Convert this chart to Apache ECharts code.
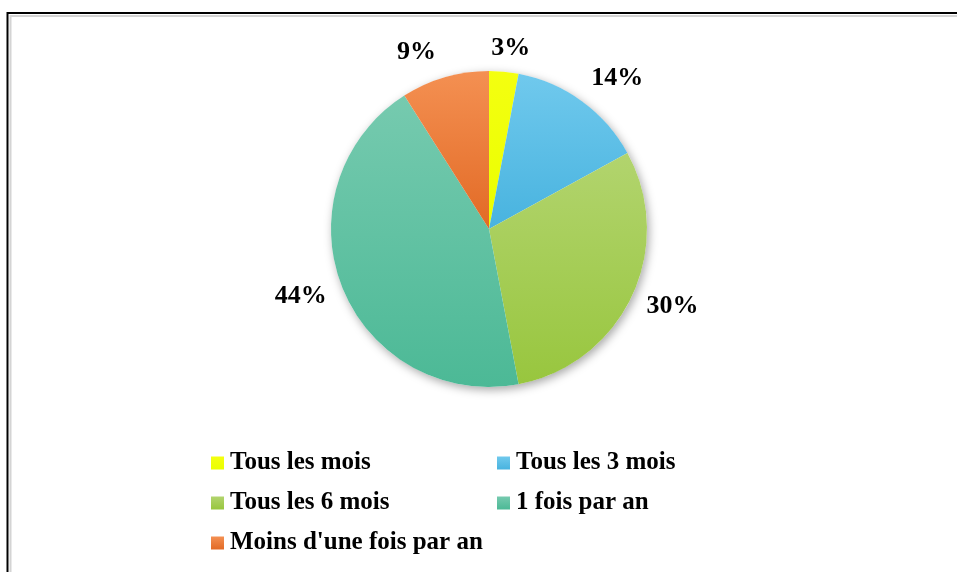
<!DOCTYPE html>
<html>
<head>
<meta charset="utf-8">
<script src="https://cdn.jsdelivr.net/npm/echarts@6/dist/echarts.min.js"></script>
<style>
  html, body { margin: 0; padding: 0; background: #fff; }
  #chart { width: 957px; height: 572px; }
</style>
</head>
<body>
<div id="chart"></div>
<script>
// frequences et parts (%)
const categories = ['Tous les mois', 'Tous les 3 mois', 'Tous les 6 mois', '1 fois par an', "Moins d'une fois par an"];
const values = [3, 14, 30, 44, 9];
// couleurs haut / bas du degrade de chaque part
const colorsTop = ['#f4ff10', '#70c9ed', '#b2d46e', '#76caaf', '#f49052'];
const colorsBottom = ['#eaff00', '#48b3df', '#98c63e', '#4cb996', '#e26a25'];
// placement des etiquettes facon "ajustement optimal" (distance au centre, decalage angulaire en degres)
const labelDist = [182, 198, 199, 200, 191];
const labelTurn = [-1.5, -4.4, 2.4, -1.9, 6.1];

const serif = '"Liberation Serif", "Times New Roman", serif';
const cx = 489, cy = 229, r = 158;

let chart = echarts.init(document.getElementById('chart'));

function grad(i) {
  return new echarts.graphic.LinearGradient(0, 0, 0, 1, [
    { offset: 0, color: colorsTop[i] },
    { offset: 1, color: colorsBottom[i] }
  ]);
}

const total = values.reduce((a, b) => a + b, 0);

const pieData = categories.map((name, i) => ({
  name: name,
  value: values[i],
  itemStyle: { color: grad(i) }
}));

function placeLabel(params) {
  let i = params.dataIndex;
  let before = 0;
  for (let k = 0; k < i; k++) before += values[k];
  let mid = 90 - (before + values[i] / 2) / total * 360 + labelTurn[i];
  let a = mid * Math.PI / 180;
  return {
    x: cx + labelDist[i] * Math.cos(a),
    y: cy - labelDist[i] * Math.sin(a),
    align: 'center',
    verticalAlign: 'middle'
  };
}

const legendText = { fontFamily: serif, fontWeight: 'bold', fontSize: 25, color: '#000', lineHeight: 28, padding: [0, 0, 0, 1] };

let option = {
  animation: false,
  graphic: [
    { type: 'rect', shape: { x: 7.5, y: 13, width: 980, height: 620 },
      style: { fill: 'none', stroke: '#000', lineWidth: 2 } },
    { type: 'rect', shape: { x: 10.5, y: 16, width: 980, height: 620 },
      style: { fill: 'none', stroke: '#d4d4d4', lineWidth: 2 } }
  ],
  legend: [
    {
      orient: 'vertical', left: 211, top: 449, padding: 0,
      data: [categories[0], categories[2], categories[4]],
      itemWidth: 13, itemHeight: 13, itemGap: 12, icon: 'rect',
      textStyle: legendText,
      selectedMode: false
    },
    {
      orient: 'vertical', left: 497, top: 449, padding: 0,
      data: [categories[1], categories[3]],
      itemWidth: 13, itemHeight: 13, itemGap: 12, icon: 'rect',
      textStyle: legendText,
      selectedMode: false
    }
  ],
  series: [
    {
      // ombre portee derriere le disque
      type: 'pie', silent: true, z: 1,
      center: [cx, cy], radius: r,
      label: { show: false }, labelLine: { show: false },
      data: [{ value: total }],
      itemStyle: { color: '#fff', shadowBlur: 10, shadowColor: 'rgba(0,0,0,0.35)', shadowOffsetX: 2, shadowOffsetY: 3 }
    },
    {
      type: 'pie', z: 2,
      center: [cx, cy], radius: r,
      startAngle: 90, clockwise: true,
      data: pieData,
      label: {
        show: true, position: 'outside',
        formatter: p => p.value + '%',
        fontFamily: serif, fontWeight: 'bold', fontSize: 26, color: '#000'
      },
      labelLine: { show: false },
      labelLayout: placeLabel,
      emphasis: { disabled: true }
    }
  ]
};
chart.setOption(option);

window.addEventListener('resize', function () {
  chart.resize();
});
</script>
</body>
</html>
